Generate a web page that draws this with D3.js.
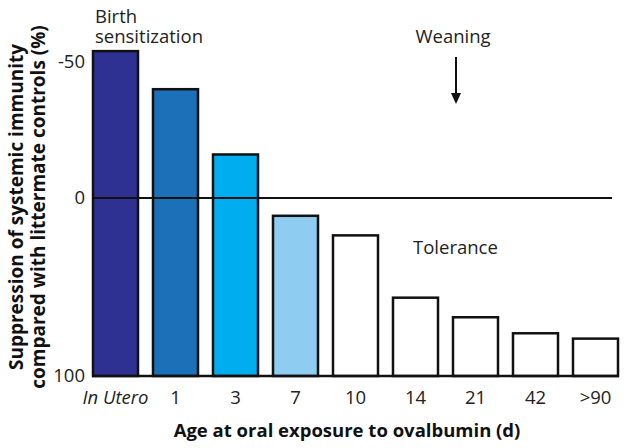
<!DOCTYPE html>
<html>
<head>
<meta charset="utf-8">
<script src="https://cdn.jsdelivr.net/npm/d3@7"></script>
<style>
  html, body { margin: 0; padding: 0; background: #fff; }
  svg { display: block; font-family: "Open Sans", "Noto Sans", sans-serif; }
</style>
</head>
<body>
<svg id="chart" width="629" height="448"></svg>
<script>
// Data
const categories = ["In Utero", "1", "3", "7", "10", "14", "21", "42", ">90"];
const values = [-54, -40, -16, 10, 21, 56, 67, 76, 79];
const barColors = ["#2e3192", "#1c70b8", "#00aeef", "#8ecdf1", "#ffffff", "#ffffff", "#ffffff", "#ffffff", "#ffffff"];
const yTicks = [-50, 0, 100];
const yTickLabels = ["-50", "0", "100"];
const yTitleLines = ["Suppression of systemic immunity", "compared with littermate controls (%)"];
const xTitle = "Age at oral exposure to ovalbumin (d)";

const svg = d3.select("#chart");

const x = d3.scaleBand().domain(categories).range([93, 618]).paddingInner(0.25).paddingOuter(0);
// Axis in the original figure is not linear: piecewise scale through the labelled ticks
const y = d3.scaleLinear().domain([-50, 0, 100]).range([62, 198, 376]);

const FS = 18.5;

// Bars (from value down to the 100 baseline)
svg.append("g").selectAll("rect")
  .data(categories)
  .join("rect")
  .attr("x", d => x(d))
  .attr("width", x.bandwidth())
  .attr("y", (d, i) => y(values[i]))
  .attr("height", (d, i) => y(100) - y(values[i]))
  .attr("fill", (d, i) => barColors[i])
  .attr("stroke", "#111")
  .attr("stroke-width", 2.5);

// Zero line
svg.append("line")
  .attr("x1", x(categories[0])).attr("x2", 612)
  .attr("y1", y(0)).attr("y2", y(0))
  .attr("stroke", "#111").attr("stroke-width", 2);

// Baseline
svg.append("line")
  .attr("x1", x(categories[0]) - 1).attr("x2", x(categories[categories.length - 1]) + x.bandwidth() + 1)
  .attr("y1", y(100)).attr("y2", y(100))
  .attr("stroke", "#111").attr("stroke-width", 2.5);

// Y tick labels
svg.append("g").selectAll("text")
  .data(yTicks)
  .join("text")
  .attr("x", 85)
  .attr("y", d => y(d))
  .attr("dy", "0.35em")
  .attr("text-anchor", "end")
  .attr("font-size", FS)
  .attr("fill", "#222")
  .text((d, i) => yTickLabels[i]);

// X category labels
svg.append("g").selectAll("text")
  .data(categories)
  .join("text")
  .attr("x", d => x(d) + x.bandwidth() / 2)
  .attr("y", 404)
  .attr("text-anchor", "middle")
  .attr("font-size", FS)
  .attr("font-style", (d, i) => i === 0 ? "italic" : "normal")
  .attr("fill", "#222")
  .text(d => d);

// X title
svg.append("text")
  .attr("x", 347).attr("y", 437)
  .attr("text-anchor", "middle")
  .attr("font-size", 18.5)
  .attr("font-weight", "bold")
  .attr("fill", "#111")
  .text(xTitle);

// Y title (two lines)
const yTitleX = [23, 45];
yTitleLines.forEach((t, i) => {
  svg.append("text")
    .attr("transform", `translate(${yTitleX[i]},207) rotate(-90)`)
    .attr("text-anchor", "middle")
    .attr("font-size", 19)
    .attr("font-weight", "bold")
    .attr("fill", "#111")
    .text(t);
});

// Annotations
svg.append("text").attr("x", 95).attr("y", 23).attr("font-size", FS).attr("fill", "#222").text("Birth");
svg.append("text").attr("x", 95).attr("y", 43).attr("font-size", FS).attr("fill", "#222").text("sensitization");
svg.append("text").attr("x", 453).attr("y", 43).attr("text-anchor", "middle").attr("font-size", FS).attr("fill", "#222").text("Weaning");
svg.append("text").attr("x", 413).attr("y", 254).attr("font-size", FS).attr("fill", "#222").text("Tolerance");

// Weaning arrow
svg.append("line")
  .attr("x1", 456).attr("x2", 456).attr("y1", 57).attr("y2", 95)
  .attr("stroke", "#111").attr("stroke-width", 2);
svg.append("path")
  .attr("d", "M451,93 L461,93 L456,104 Z")
  .attr("fill", "#111");
</script>
</body>
</html>
